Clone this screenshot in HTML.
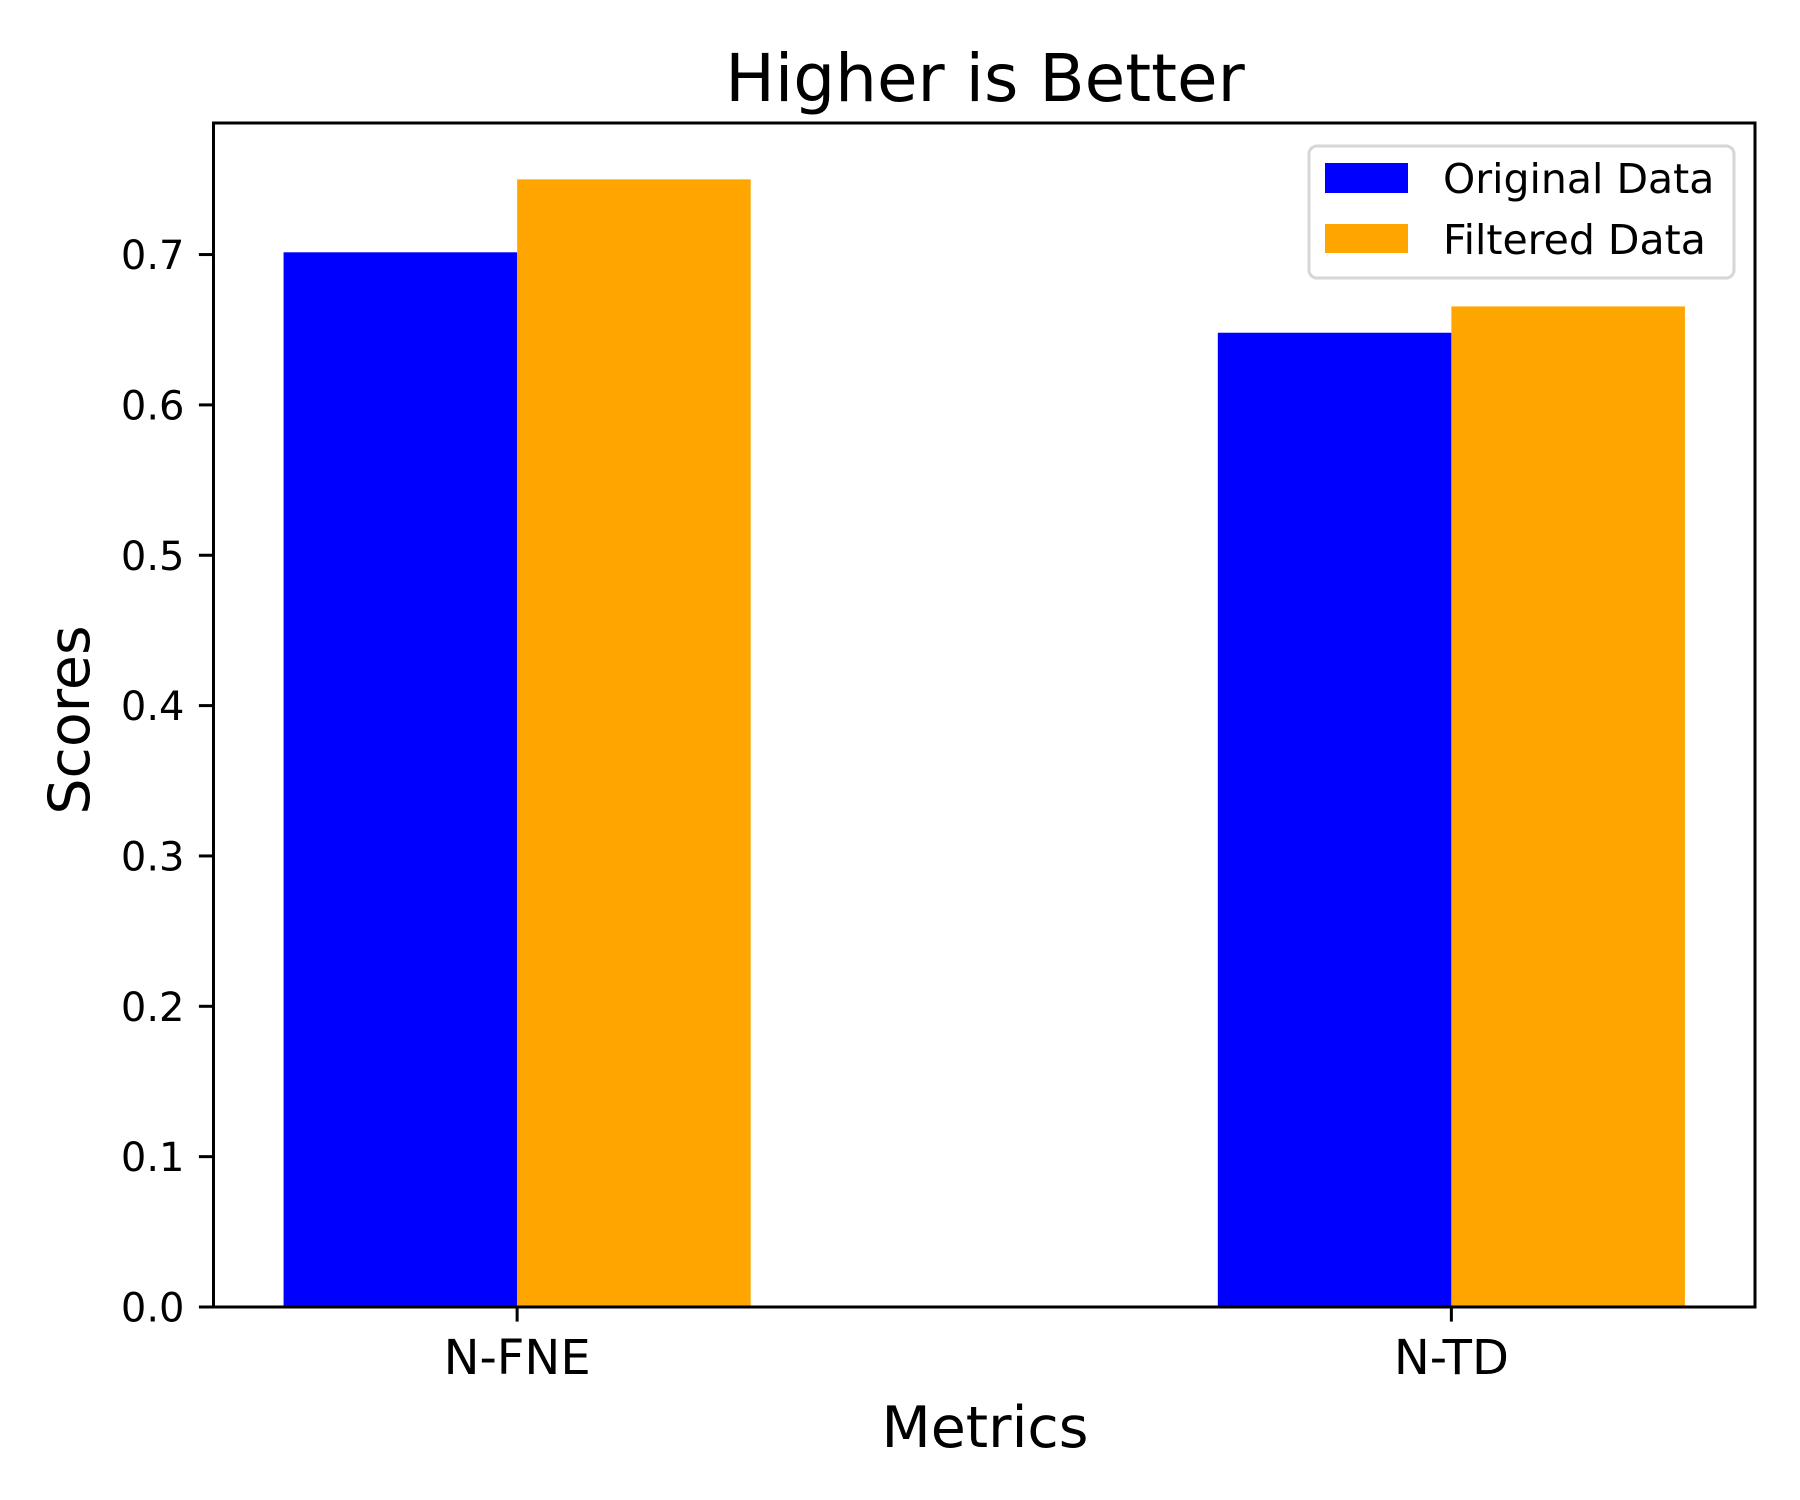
<!DOCTYPE html>
<html><head><meta charset="utf-8"><style>
html,body{margin:0;padding:0;background:#fff;}
svg{display:block;font-family:"DejaVu Sans","Liberation Sans",sans-serif;}
</style></head><body>
<svg id="chart" width="1800" height="1500" viewBox="0 0 1800 1500" xmlns="http://www.w3.org/2000/svg">
<rect width="1800" height="1500" fill="#fff"/>
<text x="985" y="101" font-size="66" text-anchor="middle">Higher is Better</text>
<g id="bars"></g>
<g id="yticks"></g>
<g id="xticks"></g>
<rect x="213.5" y="123" width="1541.5" height="1184" fill="none" stroke="#000" stroke-width="3"/>
<text x="985" y="1447" font-size="57" text-anchor="middle">Metrics</text>
<text transform="translate(89,720) rotate(-90)" font-size="57" text-anchor="middle">Scores</text>
<g>
<rect x="1309" y="146" width="425" height="132" rx="8" fill="#fff" fill-opacity="0.8" stroke="#d6d6d6" stroke-width="3"/>
<rect x="1325" y="163" width="83" height="30" fill="#0000ff"/>
<text x="1443" y="193" font-size="41">Original Data</text>
<rect x="1325" y="224" width="83" height="29" fill="#ffa500"/>
<text x="1443" y="254" font-size="41">Filtered Data</text>
</g>
</svg>
<script>
const categories = ["N-FNE", "N-TD"];
const originalValues = [0.7015, 0.648];
const filteredValues = [0.750, 0.6655];
const yTickValues = [0.0, 0.1, 0.2, 0.3, 0.4, 0.5, 0.6, 0.7];
const yTickLabels = ["0.0", "0.1", "0.2", "0.3", "0.4", "0.5", "0.6", "0.7"];

const NS = "http://www.w3.org/2000/svg";
const X0 = 213.5, X1 = 1755, Y0 = 1307, Y1 = 123;
const xMin = -0.325, xMax = 1.325, yMin = 0, yMax = 0.7875;
const barW = 0.25;
function xs(v){ return X0 + (v - xMin) / (xMax - xMin) * (X1 - X0); }
function ys(v){ return Y0 - (v - yMin) / (yMax - yMin) * (Y0 - Y1); }
function mk(tag, attrs){ const e = document.createElementNS(NS, tag); for (const k in attrs) e.setAttribute(k, attrs[k]); return e; }

const bars = document.getElementById('bars');
const series = [[originalValues, '#0000ff', -barW/2, 'original'], [filteredValues, '#ffa500', barW/2, 'filtered']];
series.forEach(s => {
  s[0].forEach((v, i) => {
    const c = i + s[2];
    const r = mk('rect', {x: xs(c - barW/2), y: ys(v), width: xs(c + barW/2) - xs(c - barW/2), height: ys(0) - ys(v), fill: s[1]});
    
    
    bars.appendChild(r);
  });
});

const yg = document.getElementById('yticks');
yTickValues.forEach((v, i) => {
  const y = ys(v);
  const l = mk('line', {x1: X0 - 14.6, x2: X0, y1: y, y2: y, stroke: '#000', 'stroke-width': 3});
  
  
  yg.appendChild(l);
  const t = mk('text', {x: X0 - 29, y: y + 14.5, 'font-size': 40, 'text-anchor': 'end'});
  t.textContent = yTickLabels[i];
  
  
  yg.appendChild(t);
});

const xg = document.getElementById('xticks');
categories.forEach((c, i) => {
  const x = xs(i);
  const l = mk('line', {x1: x, x2: x, y1: Y0, y2: Y0 + 14.6, stroke: '#000', 'stroke-width': 3});
  
  
  xg.appendChild(l);
  const t = mk('text', {x: x, y: 1374, 'font-size': 48, 'text-anchor': 'middle'});
  t.textContent = c;
  
  
  xg.appendChild(t);
});
</script>
</body></html>
